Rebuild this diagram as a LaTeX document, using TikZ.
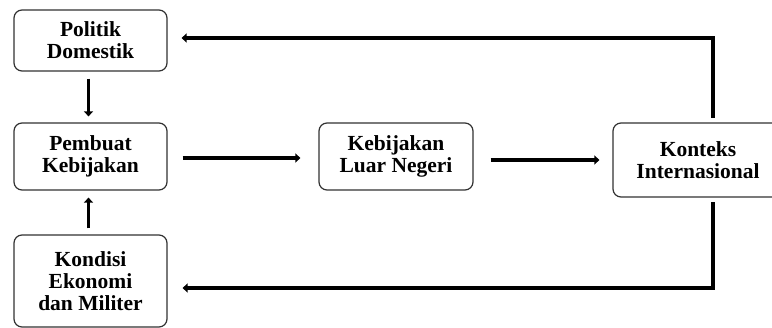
\documentclass[tikz,border=0pt]{standalone}
\usepackage{fontspec}
\setmainfont{Liberation Serif}
\usetikzlibrary{positioning,arrows.meta,calc}
\definecolor{fpLine}{RGB}{50,50,50}
\definecolor{fpArrow}{RGB}{0,0,0}
\tikzset{
    base/.style={font=\fontsize{21.5}{22}\selectfont\bfseries, align=center},
    factor/.style={base, rectangle, rounded corners=8pt, draw=fpLine, line width=1.2pt,
                   fill=white, inner sep=2pt},
    flow/.style={-{Triangle[length=5pt,width=9pt]}, line width=3.5pt, color=fpArrow},
    link/.style={line width=3.5pt, color=fpArrow}
}
\begin{document}
\begin{tikzpicture}[x=1pt, y=-1pt]
    \clip (0,0) rectangle (772,328);
    \useasboundingbox (0,0) rectangle (772,328);

    % Boxes
    \node[factor, minimum width=153pt, minimum height=61pt] (politik) at (90.5,40.5) {Politik\\Domestik};
    \node[factor, minimum width=153pt, minimum height=67pt] (pembuat) at (90.5,156.5) {Pembuat\\Kebijakan};
    \node[factor, minimum width=153pt, minimum height=92pt] (kondisi) at (90.5,281) {Kondisi\\Ekonomi\\dan Militer};
    \node[factor, minimum width=154pt, minimum height=67pt] (luar) at (396,156.5) {Kebijakan\\Luar Negeri};
    \node[factor, minimum width=170pt, minimum height=74pt] (konteks) at (698,160) {Konteks\\Internasional};

    % Corner points of the feedback lines
    \coordinate (topR) at (713,38);
    \coordinate (botR) at (713,288);

    % Straight arrows
    \draw[flow, shorten <=7pt, shorten >=6pt] ([xshift=-2pt]politik.south) -- ([xshift=-2pt]pembuat.north);
    \draw[flow, shorten <=6pt, shorten >=7pt] ([xshift=-2pt]kondisi.north) -- ([xshift=-2pt]pembuat.south);
    \draw[flow, shorten <=15pt, shorten >=18pt] ([yshift=-1.5pt]pembuat.east) -- ([yshift=-1.5pt]pembuat.east -| luar.west);
    \draw[flow, shorten <=17pt, shorten >=13pt] (luar.east |- konteks.west) -- (konteks.west);

    % Feedback lines
    \draw[link, line cap=rect, shorten <=6pt] (konteks.north -| topR) -- (topR);
    \draw[flow, shorten >=14pt] (topR) -- (topR -| politik.east);
    \draw[link, line cap=rect, shorten <=6pt] (konteks.south -| botR) -- (botR);
    \draw[flow, shorten >=15pt] (botR) -- (botR -| kondisi.east);
\end{tikzpicture}
\end{document}
